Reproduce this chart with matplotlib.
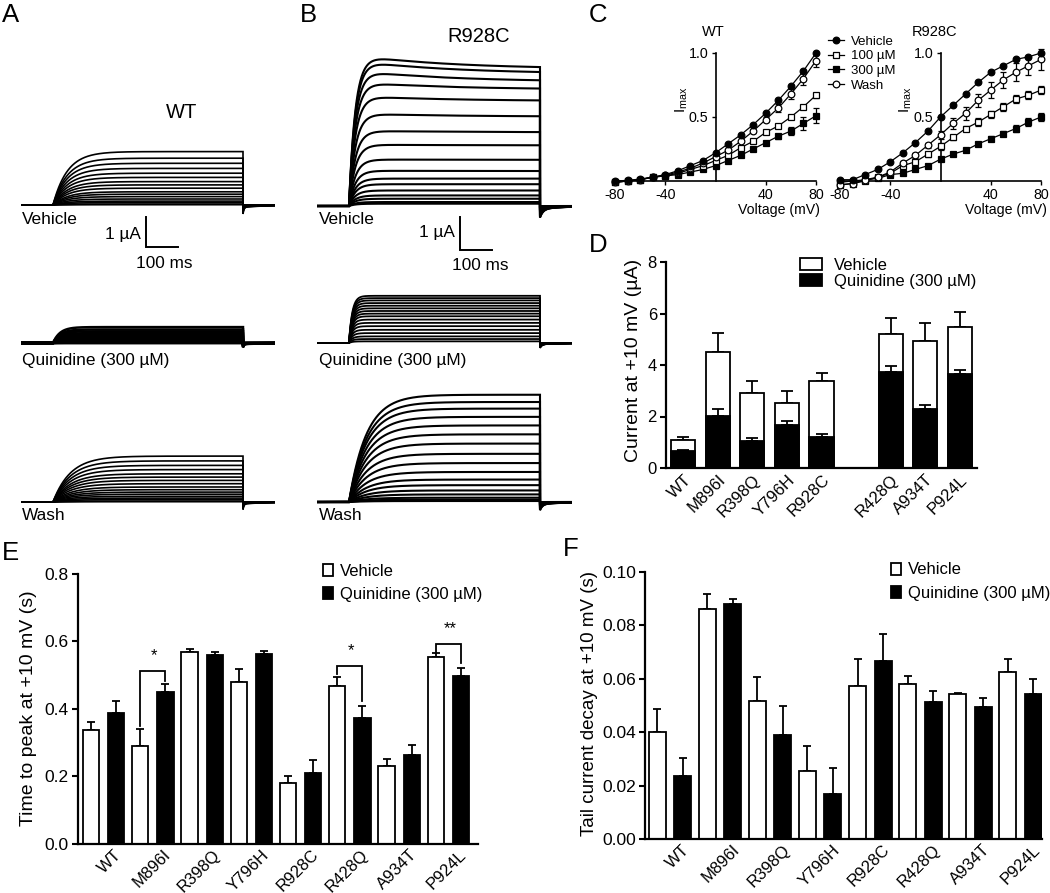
import numpy as np
import matplotlib
matplotlib.use("Agg")
import matplotlib.pyplot as plt
import matplotlib.transforms as mtransforms
from matplotlib.patches import Patch

plt.rcParams['font.family'] = ['Liberation Sans', 'DejaVu Sans']
plt.rcParams['mathtext.fontset'] = 'custom'
plt.rcParams['mathtext.rm'] = 'Liberation Sans'
plt.rcParams['mathtext.it'] = 'Liberation Sans:italic'
plt.rcParams['axes.unicode_minus'] = False

# ---------------- data ----------------
volts = [-80, -70, -60, -50, -40, -30, -20, -10, 0, 10, 20, 30, 40, 50, 60, 70, 80]

# Panel C, WT normalized I-V
wt_vehicle = [0.0, 0.005, 0.015, 0.03, 0.05, 0.08, 0.12, 0.16, 0.22, 0.29, 0.36, 0.44, 0.53, 0.63, 0.74, 0.86, 1.0]
wt_100 = [-0.01, 0.0, 0.01, 0.03, 0.04, 0.06, 0.09, 0.12, 0.16, 0.20, 0.26, 0.31, 0.38, 0.43, 0.50, 0.58, 0.67]
wt_100_err = [0, 0, 0, 0, 0, 0, 0, 0.005, 0.005, 0.005, 0.01, 0.01, 0.01, 0.01, 0.01, 0.015, 0.02]
wt_300 = [-0.01, 0.0, 0.01, 0.03, 0.04, 0.05, 0.07, 0.09, 0.12, 0.16, 0.20, 0.25, 0.30, 0.35, 0.39, 0.45, 0.51]
wt_300_err = [0, 0, 0, 0, 0, 0, 0, 0.005, 0.005, 0.005, 0.01, 0.01, 0.015, 0.02, 0.03, 0.05, 0.06]
wt_wash = [-0.01, 0.0, 0.01, 0.03, 0.045, 0.07, 0.10, 0.14, 0.19, 0.24, 0.31, 0.39, 0.48, 0.57, 0.68, 0.80, 0.94]
wt_wash_err = [0, 0, 0, 0, 0, 0, 0, 0.005, 0.005, 0.01, 0.01, 0.015, 0.02, 0.03, 0.04, 0.05, 0.05]

# Panel C, R928C normalized I-V
r_vehicle = [0.01, 0.01, 0.05, 0.09, 0.15, 0.22, 0.30, 0.39, 0.50, 0.59, 0.68, 0.77, 0.85, 0.90, 0.95, 0.97, 1.0]
r_100 = [-0.03, -0.02, 0.0, 0.03, 0.06, 0.12, 0.15, 0.21, 0.27, 0.34, 0.41, 0.46, 0.52, 0.58, 0.64, 0.67, 0.71]
r_100_err = [0.01, 0.01, 0.01, 0.01, 0.01, 0.01, 0.02, 0.02, 0.03, 0.02, 0.02, 0.03, 0.03, 0.03, 0.03, 0.03, 0.03]
r_300 = [-0.01, 0.0, 0.01, 0.02, 0.05, 0.06, 0.09, 0.12, 0.17, 0.21, 0.24, 0.29, 0.33, 0.37, 0.41, 0.46, 0.50]
r_300_err = [0, 0, 0, 0, 0.005, 0.005, 0.01, 0.01, 0.01, 0.01, 0.01, 0.015, 0.02, 0.02, 0.025, 0.03, 0.03]
r_wash = [-0.03, -0.02, 0.01, 0.03, 0.07, 0.14, 0.20, 0.28, 0.36, 0.45, 0.53, 0.63, 0.71, 0.79, 0.85, 0.90, 0.95]
r_wash_err = [0, 0, 0, 0.01, 0.01, 0.02, 0.02, 0.02, 0.03, 0.04, 0.05, 0.05, 0.06, 0.06, 0.07, 0.07, 0.08]

# Panels A/B: steady-state current of each sweep (-80..+80 mV), uA
a_vehicle_ss = [0.01, 0.03, 0.08, 0.13, 0.20, 0.28, 0.36, 0.44, 0.56, 0.67, 0.78, 0.92, 1.06, 1.22, 1.39, 1.56, 1.78]
a_quin_ss = [0.0, 0.0, 0.01, 0.02, 0.03, 0.05, 0.07, 0.09, 0.12, 0.15, 0.19, 0.23, 0.28, 0.33, 0.39, 0.45, 0.53]
a_wash_ss = [0.01, 0.03, 0.08, 0.13, 0.19, 0.26, 0.33, 0.41, 0.50, 0.61, 0.72, 0.83, 0.94, 1.08, 1.22, 1.37, 1.53]
b_vehicle_ss = [0.07, 0.12, 0.22, 0.32, 0.47, 0.66, 0.83, 1.06, 1.40, 1.84, 2.24, 2.72, 3.20, 3.56, 3.81, 4.06, 4.21]
b_vehicle_peak = [0.07, 0.12, 0.22, 0.32, 0.47, 0.66, 0.83, 1.07, 1.41, 1.86, 2.28, 2.80, 3.33, 3.75, 4.10, 4.40, 4.57]
b_quin_ss = [0.05, 0.12, 0.20, 0.30, 0.40, 0.51, 0.61, 0.71, 0.81, 0.89, 0.97, 1.05, 1.13, 1.21, 1.29, 1.36, 1.43]
b_wash_ss = [0.03, 0.07, 0.13, 0.23, 0.35, 0.51, 0.68, 0.91, 1.18, 1.46, 1.77, 2.05, 2.32, 2.58, 2.83, 3.03, 3.25]

# Panels D-F
mutants = ['WT', 'M896I', 'R398Q', 'Y796H', 'R928C', 'R428Q', 'A934T', 'P924L']
d_vehicle = [1.08, 4.52, 2.90, 2.53, 3.38, 5.19, 4.94, 5.48]
d_vehicle_err = [0.12, 0.71, 0.49, 0.47, 0.32, 0.63, 0.71, 0.57]
d_quin = [0.65, 2.03, 1.06, 1.68, 1.21, 3.73, 2.31, 3.64]
d_quin_err = [0.04, 0.28, 0.12, 0.15, 0.10, 0.22, 0.12, 0.18]

e_vehicle = [0.338, 0.289, 0.569, 0.480, 0.180, 0.467, 0.230, 0.554]
e_vehicle_err = [0.024, 0.052, 0.009, 0.037, 0.020, 0.028, 0.021, 0.011]
e_quin = [0.388, 0.449, 0.560, 0.562, 0.209, 0.374, 0.262, 0.498]
e_quin_err = [0.036, 0.025, 0.007, 0.008, 0.039, 0.034, 0.032, 0.023]
sig_groups = [1, 5, 7]
sig_marks = ['*', '*', '**']
sig_top = [0.512, 0.527, 0.591]
sig_left = [0.348, 0.502, 0.569]
sig_right = [0.482, 0.422, 0.535]

f_vehicle = [0.0399, 0.0863, 0.0515, 0.0254, 0.0572, 0.0581, 0.0544, 0.0625]
f_vehicle_err = [0.0087, 0.0055, 0.0093, 0.0094, 0.0104, 0.0029, 0.0002, 0.0051]
f_quin = [0.0237, 0.0880, 0.0389, 0.0168, 0.0667, 0.0514, 0.0494, 0.0542]
f_quin_err = [0.0065, 0.0020, 0.0110, 0.0098, 0.0101, 0.0041, 0.0033, 0.0058]

# ---------------- layout helpers ----------------
W, H = 1050, 893
fig = plt.figure(figsize=(W / 100, H / 100), dpi=100)


def rect(x0, y0, x1, y1):
    return [x0 / W, 1 - y1 / H, (x1 - x0) / W, (y1 - y0) / H]


def ftext(x, y, s, **kw):
    return fig.text(x / W, 1 - y / H, s, **kw)


MU = '\u00b5'

# ---------------- panels A / B (current traces) ----------------
def trace_axes(xp0, xp1, base, ppu, ytop, ybot):
    pxms = (xp1 - xp0) / 600.0
    ax = fig.add_axes(rect(xp0 - 100 * pxms, ytop, xp1 + 100 * pxms, ybot))
    ax.set_xlim(-100, 700)
    ax.set_ylim(-(ybot - base) / ppu, (base - ytop) / ppu)
    ax.axis('off')
    return ax


def draw_traces(ax, ss, tau, tail, tail_tau, peak=None, lw=1.2):
    t_on = np.linspace(0, 600, 1201)
    t_off = np.linspace(600, 700, 201)
    amax = max(ss)
    for i, a in enumerate(ss):
        act = 1 - np.exp(-t_on / tau)
        if peak is not None:
            p = peak[i]
            decay = (np.exp(-t_on / 300.0) - np.exp(-2.0)) / (1 - np.exp(-2.0))
            shape = a + (p - a) * decay / 0.92
        else:
            shape = a
        i_on = act * shape
        frac = a / amax
        i_off = -tail * frac * (0.75 * np.exp(-(t_off - 600) / tail_tau) + 0.25 * np.exp(-(t_off - 600) / 80.0))
        t = np.concatenate([[-100, 0], t_on, t_off])
        y = np.concatenate([[0, 0], i_on, i_off])
        ax.plot(t, y, color='k', lw=lw, solid_joinstyle='miter')


# A column
axA1 = trace_axes(53, 243, 205, 30, 140, 250)
draw_traces(axA1, a_vehicle_ss, 45, 0.30, 3, lw=1.2)
axA2 = trace_axes(53, 243, 343, 30, 310, 352)
draw_traces(axA2, a_quin_ss, 22, 0.15, 3, lw=1.8)
axA3 = trace_axes(53, 243, 502, 30, 440, 512)
draw_traces(axA3, a_wash_ss, 55, 0.25, 3, lw=1.2)

# B column
axB1 = trace_axes(349, 540, 206, 33, 45, 252)
draw_traces(axB1, b_vehicle_ss, 20, 0.35, 10, peak=b_vehicle_peak, lw=1.5)
axB2 = trace_axes(349, 540, 343, 33, 285, 352)
draw_traces(axB2, b_quin_ss, 10, 0.15, 6, lw=1.3)
axB3 = trace_axes(349, 540, 502, 33, 385, 512)
draw_traces(axB3, b_wash_ss, 55, 0.25, 8, lw=1.5)

# scale bars (1 uA, 100 ms)
axA1.plot([294, 294, 394], [-0.4, -1.4, -1.4], color='k', lw=1.4, clip_on=False, solid_joinstyle='miter')
axB1.plot([349, 349, 449], [-0.33, -1.33, -1.33], color='k', lw=1.4, clip_on=False, solid_joinstyle='miter')
ftext(141, 235, '1 ' + MU + 'A', ha='right', va='center', fontsize=12.4)
ftext(164, 263, '100 ms', ha='center', va='center', fontsize=12.4)
ftext(455, 233, '1 ' + MU + 'A', ha='right', va='center', fontsize=12.4)
ftext(480, 265, '100 ms', ha='center', va='center', fontsize=12.4)

for x0 in (22, 319):
    ftext(x0, 220, 'Vehicle', ha='left', va='center', fontsize=12.4)
    ftext(x0, 360, 'Quinidine (300 ' + MU + 'M)', ha='left', va='center', fontsize=12.4)
    ftext(x0, 516, 'Wash', ha='left', va='center', fontsize=12.4)

ftext(182, 113, 'WT', ha='center', va='center', fontsize=14.5)
ftext(479, 37, 'R928C', ha='center', va='center', fontsize=14.5)

# panel letters
for lab, (x, y) in {'A': (2, 3), 'B': (300, 3), 'C': (589, 3), 'D': (589, 233),
                    'E': (2, 541), 'F': (563, 537)}.items():
    ftext(x, y, lab, ha='left', va='top', fontsize=18.5)

# ---------------- panel C (I-V) ----------------
def iv_axes(x0, x1, series):
    ax = fig.add_axes(rect(x0, 53, x1, 181))
    ax.set_xlim(-80, 80)
    ax.set_ylim(0, 1.0)
    for s in ('top', 'right'):
        ax.spines[s].set_visible(False)
    ax.spines['left'].set_position(('data', 0))
    ax.spines['bottom'].set_position(('data', 0))
    ax.spines['left'].set_bounds(0, 1.0)
    for s in ('left', 'bottom'):
        ax.spines[s].set_linewidth(1.2)
    ax.set_xticks([-80, -40, 40, 80])
    ax.set_yticks([0.5, 1.0])
    ax.set_yticklabels(['0.5', '1.0'])
    ax.tick_params(labelsize=10.3, width=1.0, length=3, pad=2)
    ax.patch.set_alpha(0)
    handles = []
    for vals, err, mk, fc, lab in series:
        if err is not None:
            ax.errorbar(volts, vals, yerr=err, fmt='none', ecolor='k', elinewidth=0.9,
                        capsize=2.2, capthick=0.9, clip_on=False, zorder=2)
        ln, = ax.plot(volts, vals, color='k', lw=0.9, marker=mk, ms=4.8, mfc=fc, mec='k',
                      mew=0.9, clip_on=False, zorder=3, label=lab)
        handles.append(ln)
    return ax, handles


axC1, hC = iv_axes(615, 816, [
    (wt_300, wt_300_err, 's', 'k', '300 ' + MU + 'M'),
    (wt_100, wt_100_err, 's', 'w', '100 ' + MU + 'M'),
    (wt_wash, wt_wash_err, 'o', 'w', 'Wash'),
    (wt_vehicle, None, 'o', 'k', 'Vehicle'),
])
axC2, _ = iv_axes(840, 1041, [
    (r_300, r_300_err, 's', 'k', '300 ' + MU + 'M'),
    (r_100, r_100_err, 's', 'w', '100 ' + MU + 'M'),
    (r_wash, r_wash_err, 'o', 'w', 'Wash'),
    (r_vehicle, None, 'o', 'k', 'Vehicle'),
])
ftext(713, 32, 'WT', ha='center', va='center', fontsize=10.5)
ftext(935, 32, 'R928C', ha='center', va='center', fontsize=10.5)
ftext(820, 210, 'Voltage (mV)', ha='right', va='center', fontsize=10.2)
ftext(1047, 210, 'Voltage (mV)', ha='right', va='center', fontsize=10.2)
ftext(682, 100, r'$\mathregular{I_{max}}$', ha='center', va='center', rotation=90, fontsize=11)
ftext(906, 100, r'$\mathregular{I_{max}}$', ha='center', va='center', rotation=90, fontsize=11)
order = [3, 1, 0, 2]
fig.legend([hC[i] for i in order], [hC[i].get_label() for i in order],
           loc='upper left', bbox_to_anchor=(828 / W, 1 - 35.5 / H), frameon=False,
           fontsize=9.5, handlelength=1.25, handletextpad=0.5, labelspacing=0.18,
           borderpad=0, borderaxespad=0)

# ---------------- bar chart helpers ----------------
def style_bar_axes(ax, tick_fs):
    for s in ('top', 'right'):
        ax.spines[s].set_visible(False)
    for s in ('left', 'bottom'):
        ax.spines[s].set_linewidth(1.6)
    ax.tick_params(axis='y', labelsize=tick_fs, width=1.5, length=4.5, pad=2)
    ax.tick_params(axis='x', labelsize=12, length=0, pad=3)
    ax.patch.set_alpha(0)


def shift_xlabels(ax, dx_px, dy_px=0):
    off = mtransforms.ScaledTranslation(dx_px / 100, -dy_px / 100, fig.dpi_scale_trans)
    for lab in ax.get_xticklabels():
        lab.set_transform(lab.get_transform() + off)


BAR_LW = 1.3

# ---------------- panel D ----------------
axD = fig.add_axes(rect(666, 262, 977, 468))
d_pos = np.array([i + (1 if i >= 5 else 0) for i in range(len(mutants))], dtype=float)
axD.set_xlim(-0.5, 8.5)
axD.set_ylim(0, 8)
axD.bar(d_pos, d_vehicle, width=0.7, color='w', edgecolor='k', lw=BAR_LW, zorder=2)
axD.errorbar(d_pos, d_vehicle, yerr=[np.zeros(8), d_vehicle_err], fmt='none', ecolor='k',
             elinewidth=1.3, capsize=4.2, capthick=1.3, zorder=1)
axD.bar(d_pos, d_quin, width=0.7, color='k', edgecolor='k', lw=BAR_LW, zorder=3)
axD.errorbar(d_pos, d_quin, yerr=[np.zeros(8), d_quin_err], fmt='none', ecolor='k',
             elinewidth=1.3, capsize=4.2, capthick=1.3, zorder=4)
style_bar_axes(axD, 12)
axD.set_yticks([0, 2, 4, 6, 8])
axD.set_xticks(d_pos)
axD.set_xticklabels(mutants, rotation=45, ha='right', rotation_mode='anchor', fontsize=12)
ftext(633, 360, 'Current at +10 mV (' + MU + 'A)', rotation=90, ha='center', va='center', fontsize=14)
axD.legend([Patch(facecolor='w', edgecolor='k', lw=BAR_LW), Patch(facecolor='k', edgecolor='k', lw=BAR_LW)],
           ['Vehicle', 'Quinidine (300 ' + MU + 'M)'], loc='upper left',
           bbox_to_anchor=(800 / W, 1 - 257.5 / H), bbox_transform=fig.transFigure,
           frameon=False, fontsize=12, handlelength=1.3, handleheight=0.8,
           handletextpad=0.75, labelspacing=0.05, borderpad=0, borderaxespad=0)

# ---------------- panels E and F ----------------
def grouped(ax, veh, veh_err, qui, qui_err, width, capsize):
    x = np.arange(len(mutants), dtype=float)
    off = 0.255
    ax.errorbar(x - off, veh, yerr=[np.zeros(len(x)), veh_err], fmt='none', ecolor='k',
                elinewidth=1.3, capsize=capsize, capthick=1.3, zorder=1)
    ax.errorbar(x + off, qui, yerr=[np.zeros(len(x)), qui_err], fmt='none', ecolor='k',
                elinewidth=1.3, capsize=capsize, capthick=1.3, zorder=1)
    ax.bar(x - off, veh, width=width, color='w', edgecolor='k', lw=BAR_LW, zorder=2)
    ax.bar(x + off, qui, width=width, color='k', edgecolor='k', lw=BAR_LW, zorder=2)
    ax.set_xticks(x)
    ax.set_xticklabels(mutants, rotation=45, ha='right', rotation_mode='anchor', fontsize=11.8)
    return x, off


axE = fig.add_axes(rect(78, 573.5, 478, 844))
axE.set_xlim(-0.52, 7.6)
axE.set_ylim(0, 0.8)
xE, offE = grouped(axE, e_vehicle, e_vehicle_err, e_quin, e_quin_err, 0.33, 3.2)
style_bar_axes(axE, 12.5)
axE.set_yticks([0.0, 0.2, 0.4, 0.6, 0.8])
axE.set_yticklabels(['0.0', '0.2', '0.4', '0.6', '0.8'])
shift_xlabels(axE, 10, -1)
for g, mk, top, yl, yr in zip(sig_groups, sig_marks, sig_top, sig_left, sig_right):
    axE.plot([g - offE, g - offE, g + offE, g + offE], [yl, top, top, yr], color='k', lw=1.3,
             solid_joinstyle='miter')
    axE.text(g + 0.03, top + 0.045, mk, ha='center', va='center', fontsize=12)
ftext(29, 708, 'Time to peak at +10 mV (s)', rotation=90, ha='center', va='center', fontsize=14)
axE.legend([Patch(facecolor='w', edgecolor='k', lw=BAR_LW), Patch(facecolor='k', edgecolor='k', lw=BAR_LW)],
           ['Vehicle', 'Quinidine (300 ' + MU + 'M)'], loc='upper left',
           bbox_to_anchor=(323 / W, 1 - 563.5 / H), bbox_transform=fig.transFigure,
           frameon=False, fontsize=12, handlelength=0.62, handleheight=0.75,
           handletextpad=0.38, labelspacing=0.52, borderpad=0, borderaxespad=0)

axF = fig.add_axes(rect(645, 572, 1042, 839))
axF.set_xlim(-0.5, 7.43)
axF.set_ylim(0, 0.10)
xF, offF = grouped(axF, f_vehicle, f_vehicle_err, f_quin, f_quin_err, 0.34, 3.2)
style_bar_axes(axF, 12.5)
axF.set_yticks([0.0, 0.02, 0.04, 0.06, 0.08, 0.10])
axF.set_yticklabels(['0.00', '0.02', '0.04', '0.06', '0.08', '0.10'])
shift_xlabels(axF, 12, -1)
ftext(590, 703, 'Tail current decay at +10 mV (s)', rotation=90, ha='center', va='center', fontsize=13.5)
axF.legend([Patch(facecolor='w', edgecolor='k', lw=BAR_LW), Patch(facecolor='k', edgecolor='k', lw=BAR_LW)],
           ['Vehicle', 'Quinidine (300 ' + MU + 'M)'], loc='upper left',
           bbox_to_anchor=(891 / W, 1 - 562.5 / H), bbox_transform=fig.transFigure,
           frameon=False, fontsize=12, handlelength=0.62, handleheight=0.75,
           handletextpad=0.38, labelspacing=0.52, borderpad=0, borderaxespad=0)

fig.savefig('out.png', dpi=100)
